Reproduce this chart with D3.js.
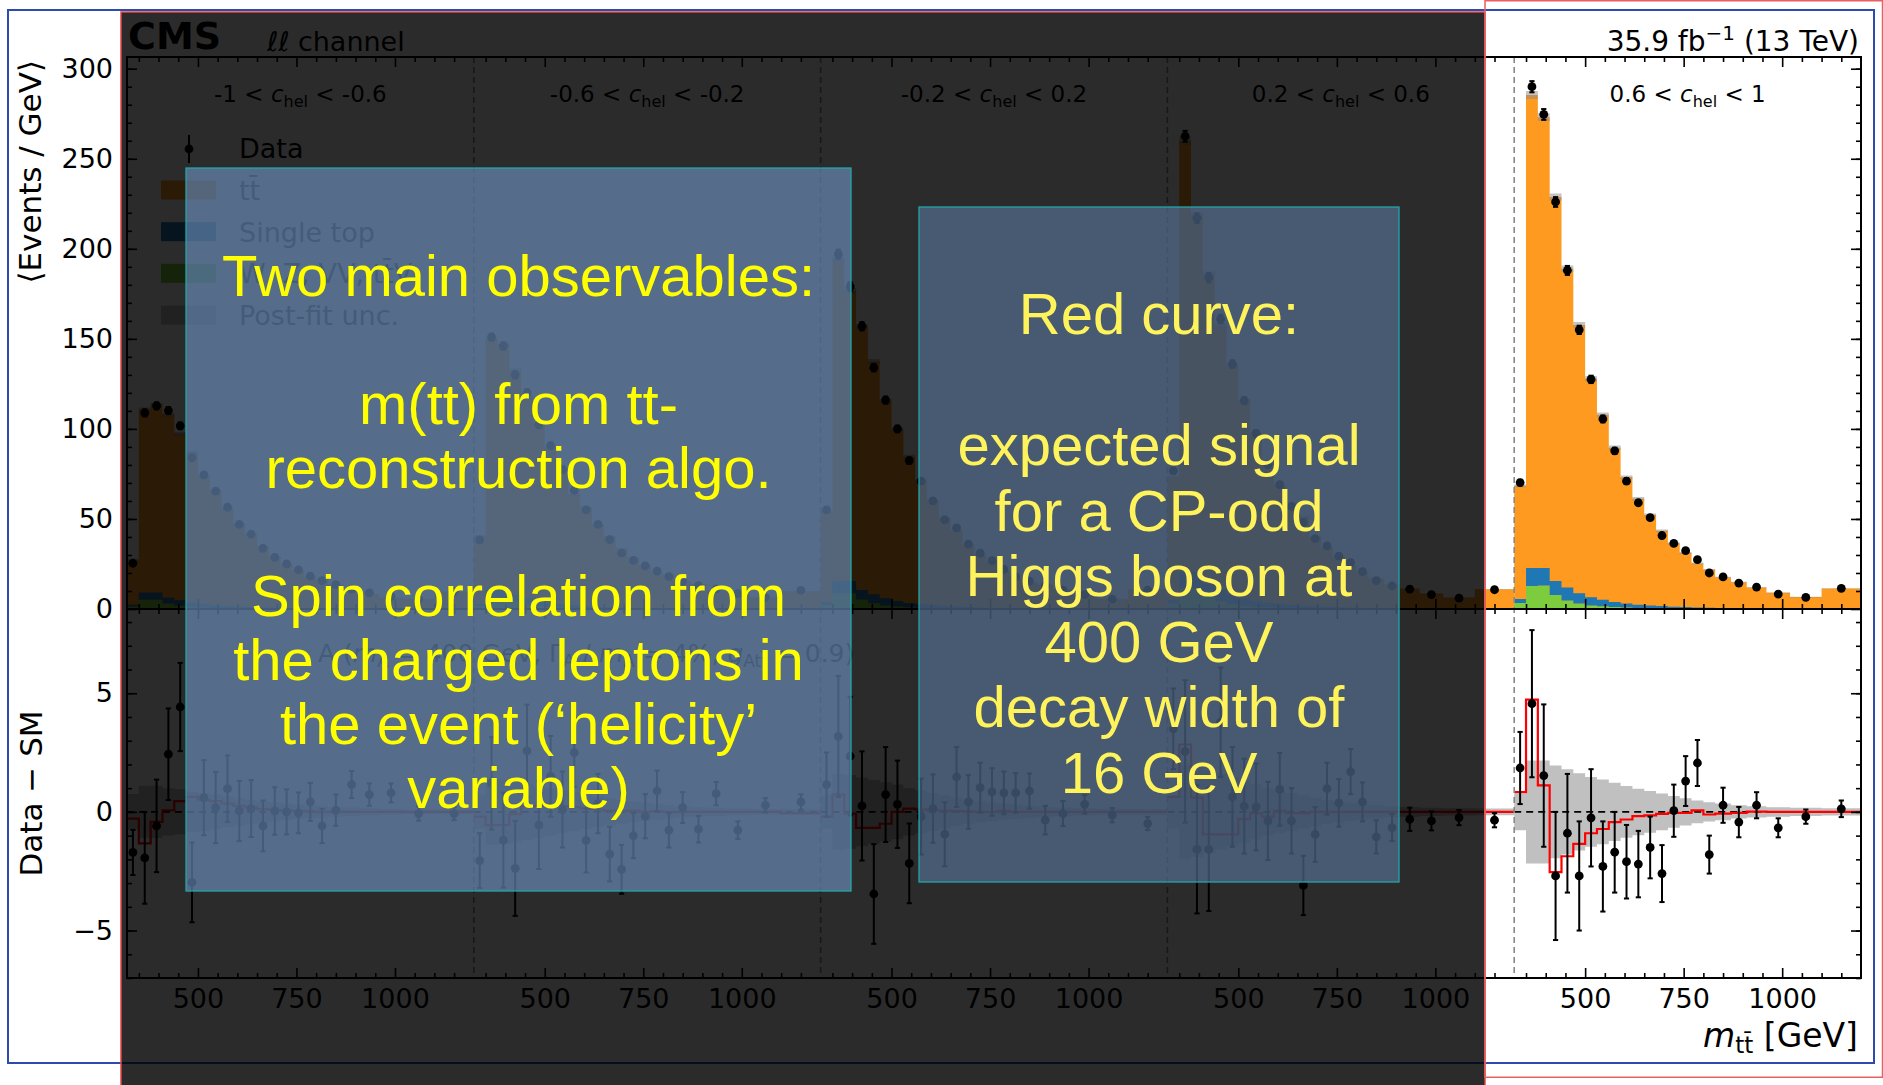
<!DOCTYPE html>
<html>
<head>
<meta charset="utf-8">
<script src="https://cdn.jsdelivr.net/npm/d3@7"></script>
<style>
body { margin:0; background:#ffffff; }
svg text { font-family: "DejaVu Sans", sans-serif; fill:#000; }
</style>
</head>
<body>
<svg id="viz" width="1883" height="1085"></svg>
<script>
// m(tt) bin edges, the same in every c_hel slice
var binEdges = [320, 350, 380, 410, 440, 470, 500, 530, 560, 590, 620, 650, 680, 710, 740, 770, 800, 830, 870, 910, 960, 1020, 1100, 1200];
var sliceLabels = [["-1", "-0.6"], ["-0.6", "-0.2"], ["-0.2", "0.2"], ["0.2", "0.6"], ["0.6", "1"]];
var massTicks = [500, 750, 1000];
var massMinor = [350, 400, 450, 550, 600, 650, 700, 800, 850, 900, 950, 1050, 1100, 1150];
var yTicksUpper = [0, 50, 100, 150, 200, 250, 300];
var yTicksLower = [-5, 0, 5];
var legendLabels = ["tt\u0304", "Single top", "W, Z, VV, tt\u0304V", "Post-fit unc."];

// events / GeV, one row per c_hel slice
var dataObs = [
  [25.4, 108.9, 112.8, 110.2, 101.7, 84, 74.4, 65.5, 56.5, 47, 41.5, 33.7, 28.7, 25, 21.7, 18.3, 15.7, 13.5, 11, 9, 7, 5.5, 9.5],
  [38.3, 151, 146, 130, 120, 102.3, 90.7, 77.4, 66, 55, 47, 38.5, 31, 27, 24, 21, 18, 15.5, 13, 11, 8.5, 6.5, 10.3],
  [55, 197, 179, 157, 134, 116, 100, 82.4, 71, 60, 49.5, 45, 36, 31, 26.8, 22, 18, 15.5, 13, 10.5, 8, 5.5, 10.5],
  [76.7, 262.5, 217, 184, 161, 136, 115.7, 97.5, 80, 69, 57, 48, 39, 35, 29.4, 25.8, 20.8, 15.7, 12.8, 11, 8, 6, 10.7],
  [70.2, 290, 274.6, 226, 188, 155, 127.5, 105.5, 87.8, 71, 59, 50.7, 40.8, 36.4, 32.4, 27.4, 20, 17.8, 14.4, 12.2, 8.3, 6.4, 11.5]
];
var smTotal = [
  [27.1, 110.8, 113.4, 107.8, 97.3, 87, 73.8, 65.3, 55.5, 47, 41.4, 34.3, 28.7, 25, 21.7, 17.9, 16.3, 13.4, 9.9, 8.3, 6.2, 5.6, 9.6],
  [40.4, 149.8, 147.2, 132.4, 117.4, 102.9, 89.2, 77.3, 63.5, 56.2, 46.7, 40.3, 33.4, 28, 24.2, 20.1, 18.8, 15.3, 13.7, 10.2, 9.3, 6.2, 9.9],
  [53.9, 193.8, 176.7, 156.8, 137.5, 115.3, 99.7, 84.6, 71.2, 59.9, 50.4, 43.5, 35.6, 30, 26, 21.2, 17.2, 14.6, 13.4, 10.6, 7.7, 5.6, 11],
  [73.2, 260, 218.6, 185.6, 157.2, 135.4, 115.5, 97.3, 80.4, 68, 57.4, 51.1, 40, 34, 29, 24.1, 20.4, 16.8, 13.5, 11.3, 8.4, 6.2, 11],
  [68.4, 285.4, 273.1, 228.7, 188.9, 157.7, 127.8, 107.8, 89.5, 73.1, 61.2, 52.2, 43.4, 36.4, 31.1, 25.3, 21.8, 17.5, 14.8, 11.9, 9, 6.6, 11.4]
];
var singleTop = [
  [0.9, 4, 3.9, 3.1, 2.9, 2.3, 1.8, 1.4, 1.1, 0.9, 0.7, 0.6, 0.5, 0.4, 0.34, 0.28, 0.22, 0.18, 0.14, 0.12, 0.08, 0.06, 0.1],
  [1.1, 5.2, 5.1, 4, 3.8, 3, 2.3, 1.9, 1.5, 1.1, 0.9, 0.8, 0.6, 0.5, 0.44, 0.36, 0.29, 0.23, 0.18, 0.16, 0.1, 0.08, 0.13],
  [1.5, 6.8, 6.7, 5.2, 5, 3.9, 3.1, 2.4, 1.9, 1.5, 1.2, 1, 0.8, 0.7, 0.58, 0.48, 0.37, 0.3, 0.24, 0.2, 0.14, 0.1, 0.17],
  [2, 9, 8.8, 6.9, 6.6, 5.2, 4, 3.2, 2.5, 2, 1.6, 1.35, 1.1, 0.9, 0.75, 0.6, 0.5, 0.4, 0.3, 0.25, 0.2, 0.15, 0.2],
  [2.2, 10, 9.8, 7.7, 7.3, 5.8, 4.5, 3.6, 2.8, 2.2, 1.8, 1.5, 1.2, 1, 0.85, 0.7, 0.55, 0.45, 0.35, 0.3, 0.2, 0.15, 0.25]
];
var otherBkg = [
  [1.4, 5.1, 5.2, 3.1, 1.9, 1.2, 0.8, 0.6, 0.44, 0.32, 0.24, 0.2, 0.16, 0.12, 0.1, 0.08, 0.06, 0.04, 0.04, 0.04, 0.02, 0.02, 0.04],
  [1.8, 6.7, 6.8, 4.1, 2.4, 1.6, 1, 0.8, 0.6, 0.4, 0.3, 0.26, 0.2, 0.16, 0.13, 0.1, 0.08, 0.05, 0.05, 0.05, 0.03, 0.03, 0.05],
  [2.3, 8.7, 8.8, 5.3, 3.2, 2, 1.4, 1, 0.75, 0.55, 0.4, 0.35, 0.25, 0.2, 0.17, 0.14, 0.1, 0.07, 0.07, 0.07, 0.03, 0.03, 0.07],
  [3, 11.5, 11.7, 7, 4.2, 2.7, 1.8, 1.35, 1, 0.7, 0.55, 0.45, 0.35, 0.3, 0.2, 0.2, 0.15, 0.1, 0.1, 0.1, 0.05, 0.05, 0.1],
  [3.4, 12.8, 13, 7.8, 4.7, 3, 2, 1.5, 1.1, 0.8, 0.6, 0.5, 0.4, 0.3, 0.25, 0.2, 0.15, 0.1, 0.1, 0.1, 0.05, 0.05, 0.1]
];
// lower panel: data - SM, its stat. error, post-fit band half width, A signal
var dataMinusSM = [
  [-1.71, -1.94, -0.59, 2.43, 4.42, -2.97, 0.6, 0.18, 0.98, 0.04, 0.14, -0.59, 0.04, 0, -0.04, 0.42, -0.59, 0.07, 1.15, 0.73, 0.8, -0.07, -0.07],
  [-2.05, 1.2, -1.19, -2.38, 2.57, -0.56, 1.5, 0.1, 2.5, -1.2, 0.35, -1.78, -2.42, -1, -0.18, 0.88, -0.77, 0.18, -0.73, 0.77, -0.77, 0.28, 0.42],
  [1.15, 3.18, 2.35, 0.25, -3.46, 0.73, 0.32, -2.17, -0.2, 0.14, -0.94, 1.47, 0.42, 1.02, 0.84, 0.8, 0.8, 0.88, -0.35, -0.07, 0.32, -0.14, -0.49],
  [3.5, 2.55, -1.58, -1.58, 3.78, 0.63, 0.24, 0.21, -0.38, 0.95, -0.38, -3.1, -0.95, 0.98, 0.38, 1.7, 0.42, -1.05, -0.66, -0.31, -0.38, -0.24, -0.35],
  [1.85, 4.56, 1.53, -2.7, -0.9, -2.7, -0.25, -2.3, -1.7, -2.1, -2.2, -1.5, -2.6, 0.05, 1.3, 2.06, -1.8, 0.28, -0.43, 0.28, -0.67, -0.2, 0.13]
];
var statErr = [
  [0.95, 1.93, 1.95, 1.93, 1.86, 1.68, 1.58, 1.5, 1.4, 1.27, 1.2, 1.07, 1, 0.95, 0.86, 0.8, 0.72, 0.66, 0.57, 0.47, 0.4, 0.3, 0.28],
  [1.15, 1.95, 2, 2, 1.95, 1.85, 1.7, 1.6, 1.45, 1.35, 1.25, 1.15, 1.03, 0.95, 0.93, 0.86, 0.73, 0.65, 0.56, 0.49, 0.37, 0.3, 0.32],
  [1.35, 2.55, 2.5, 2.3, 2.1, 2, 1.84, 1.68, 1.6, 1.44, 1.35, 1.26, 1.13, 1.05, 1, 0.9, 0.83, 0.74, 0.6, 0.53, 0.39, 0.3, 0.28],
  [1.7, 3, 2.7, 2.6, 2.3, 2.1, 2, 1.83, 1.65, 1.53, 1.38, 1.25, 1.15, 1.09, 1, 0.95, 0.82, 0.7, 0.57, 0.49, 0.4, 0.32, 0.3],
  [1.52, 3.1, 3, 2.7, 2.5, 2.3, 2.05, 1.9, 1.7, 1.55, 1.4, 1.3, 1.2, 1.1, 1.05, 0.97, 0.8, 0.74, 0.64, 0.55, 0.4, 0.3, 0.35]
];
var postfitUnc = [
  [0.75, 1.1, 1.1, 1, 0.95, 0.85, 0.8, 0.72, 0.65, 0.58, 0.5, 0.45, 0.4, 0.35, 0.3, 0.27, 0.24, 0.2, 0.18, 0.15, 0.12, 0.1, 0.1],
  [0.7, 1.4, 1.35, 1.3, 1.2, 1.1, 1, 0.9, 0.82, 0.72, 0.64, 0.56, 0.5, 0.44, 0.38, 0.33, 0.28, 0.24, 0.2, 0.17, 0.14, 0.12, 0.12],
  [0.7, 1.6, 1.55, 1.45, 1.35, 1.25, 1.15, 1, 0.9, 0.8, 0.7, 0.6, 0.52, 0.45, 0.4, 0.35, 0.3, 0.26, 0.22, 0.18, 0.15, 0.12, 0.12],
  [0.7, 2, 1.9, 1.75, 1.6, 1.45, 1.3, 1.15, 1, 0.9, 0.8, 0.7, 0.6, 0.5, 0.45, 0.38, 0.33, 0.28, 0.24, 0.2, 0.17, 0.15, 0.14],
  [0.77, 2.17, 2.17, 1.95, 1.8, 1.63, 1.47, 1.36, 1.23, 1.09, 0.98, 0.88, 0.77, 0.67, 0.57, 0.48, 0.41, 0.35, 0.28, 0.24, 0.2, 0.17, 0.15]
];
var signalA400 = [
  [-0.28, -1.33, -0.42, 0.07, 0.45, 0.63, 0.5, 0.45, 0.35, 0.25, 0.18, 0.12, 0.08, 0.05, 0.03, 0.02, 0, 0, 0, 0, 0, 0, 0],
  [-0.2, -0.56, -0.56, -0.1, 0.24, 0.24, 0.24, 0.24, 0.2, 0.15, 0.1, 0.05, 0.03, 0.05, 0, 0.03, 0, 0, 0, 0, 0, 0, -0.05],
  [-0.2, 0.73, -0.07, -0.67, -0.67, -0.5, 0, 0.14, 0.1, 0.05, 0.05, 0.03, 0.02, 0, 0, 0.05, 0, 0, 0, 0, 0, 0, 0],
  [0.63, 2.84, 0.6, -0.95, -0.95, -0.95, -0.3, -0.05, -0.2, 0.05, -0.05, -0.05, 0, 0, 0, 0, 0, 0, 0, 0, 0, 0, 0],
  [0.83, 4.73, 1.12, -2.54, -1.87, -1.35, -0.9, -0.72, -0.43, -0.32, -0.18, -0.15, -0.08, -0.04, -0.04, 0.06, -0.11, -0.07, -0.04, 0.01, 0, 0, 0]
];

var leftNote = ["Two main observables:", "", "m(tt) from tt-", "reconstruction algo.", "", "Spin correlation from", "the charged leptons in", "the event (\u2018helicity\u2019", "variable)"];
var rightNote = ["Red curve:", "", "expected signal", "for a CP-odd", "Higgs boson at", "400 GeV", "decay width of", "16 GeV"];

var colTT = "#fd9a1f", colST = "#1f77b4", colOther = "#7dcc3d", colBand = "#c0c0c0";

var svg = d3.select("#viz");
var xSlice = d3.scaleLinear().domain([0, 5]).range([127, 1861]);
var yUp = d3.scaleLinear().domain([0, 306.5]).range([609, 57]);
var yLo = d3.scaleLinear().domain([-7, 8.55]).range([978, 609]);

// frame of the whole slide figure
svg.append("rect").attr("x", 8).attr("y", 10).attr("width", 1866).attr("height", 1053)
  .attr("fill", "none").attr("stroke", "#2d4baf").attr("stroke-width", 2);

var plot = svg.append("g");

function stepPoints(bins) {
  var pts = bins.map(function (b) { return {e: b.lo, b: b}; });
  pts.push({e: bins[bins.length - 1].hi, b: bins[bins.length - 1]});
  return pts;
}

function drawPoints(g, bins, x, y, key) {
  var pts = g.append("g");
  bins.forEach(function (b) {
    var cx = x(b.mid), v = b[key];
    pts.append("line").attr("x1", cx).attr("x2", cx).attr("y1", y(v - b.err)).attr("y2", y(v + b.err))
      .attr("stroke", "#000").attr("stroke-width", 2);
    [v - b.err, v + b.err].forEach(function (e) {
      pts.append("line").attr("x1", cx - 2.6).attr("x2", cx + 2.6).attr("y1", y(e)).attr("y2", y(e))
        .attr("stroke", "#000").attr("stroke-width", 2);
    });
    pts.append("circle").attr("cx", cx).attr("cy", y(v)).attr("r", 4.4).attr("fill", "#000");
  });
}

sliceLabels.forEach(function (lab, i) {
  var x = d3.scaleLinear().domain([320, 1200]).range([xSlice(i), xSlice(i + 1)]);
  var bins = binEdges.slice(0, -1).map(function (lo, j) {
    return {lo: lo, hi: binEdges[j + 1], mid: (lo + binEdges[j + 1]) / 2,
      obs: dataObs[i][j], sm: smTotal[i][j], st: singleTop[i][j], oth: otherBkg[i][j],
      res: dataMinusSM[i][j], err: statErr[i][j], unc: postfitUnc[i][j], sig: signalA400[i][j]};
  });
  var pts = stepPoints(bins);
  var g = plot.append("g");

  // upper: stacked prediction
  g.append("path").datum(pts)
    .attr("d", d3.area().curve(d3.curveStepAfter).x(function (d) { return x(d.e); })
      .y0(yUp(0)).y1(function (d) { return yUp(d.b.sm); }))
    .attr("fill", colTT);
  var layers = d3.stack().keys(["oth", "st"])(bins);
  [colOther, colST].forEach(function (c, k) {
    var lp = layers[k].map(function (s) { return {e: s.data.lo, s: s}; });
    lp.push({e: bins[bins.length - 1].hi, s: layers[k][bins.length - 1]});
    g.append("path").datum(lp)
      .attr("d", d3.area().curve(d3.curveStepAfter).x(function (d) { return x(d.e); })
        .y0(function (d) { return yUp(d.s[0]); }).y1(function (d) { return yUp(d.s[1]); }))
      .attr("fill", c);
  });
  g.append("path").datum(pts)
    .attr("d", d3.area().curve(d3.curveStepAfter).x(function (d) { return x(d.e); })
      .y0(function (d) { return yUp(d.b.sm - d.b.unc); }).y1(function (d) { return yUp(d.b.sm + d.b.unc); }))
    .attr("fill", "#8a8a8a").attr("fill-opacity", 0.5);
  drawPoints(g, bins, x, yUp, "obs");

  // lower: data - SM
  g.append("path").datum(pts)
    .attr("d", d3.area().curve(d3.curveStepAfter).x(function (d) { return x(d.e); })
      .y0(function (d) { return yLo(-d.b.unc); }).y1(function (d) { return yLo(d.b.unc); }))
    .attr("fill", colBand);
  g.append("line").attr("x1", x(320)).attr("x2", x(1200)).attr("y1", yLo(0)).attr("y2", yLo(0))
    .attr("stroke", "#000").attr("stroke-width", 1.6).attr("stroke-dasharray", "7,5");
  g.append("path").datum(pts)
    .attr("d", d3.line().curve(d3.curveStepAfter).x(function (d) { return x(d.e); }).y(function (d) { return yLo(d.b.sig); }))
    .attr("fill", "none").attr("stroke", "#ff0000").attr("stroke-width", 2.2);
  drawPoints(g, bins, x, yLo, "res");

  // slice separator
  if (i > 0) {
    g.append("line").attr("x1", x(320)).attr("x2", x(320)).attr("y1", yUp.range()[1]).attr("y2", yLo.range()[0])
      .attr("stroke", "#888").attr("stroke-width", 1.6).attr("stroke-dasharray", "6,4");
  }

  // x axes, ticks pointing inwards
  function tickAxis(axis, y, vals, size, labels) {
    var a = g.append("g").attr("transform", "translate(0," + y + ")")
      .call(axis(x).tickValues(vals).tickSizeInner(size).tickSizeOuter(0).tickPadding(11)
        .tickFormat(labels ? d3.format("d") : ""));
    a.select(".domain").remove();
    a.selectAll("line").attr("stroke-width", 1.6);
    a.attr("font-size", 27).attr("font-family", "DejaVu Sans");
    return a;
  }
  tickAxis(d3.axisBottom, yLo.range()[0], massTicks, -10, true);
  tickAxis(d3.axisBottom, yLo.range()[0], massMinor, -5, false);
  tickAxis(d3.axisBottom, yLo.range()[1], massTicks, 10, false);
  tickAxis(d3.axisBottom, yLo.range()[1], massMinor, 5, false);
  tickAxis(d3.axisTop, yUp.range()[0], massTicks, 10, false);
  tickAxis(d3.axisTop, yUp.range()[0], massMinor, 5, false);
  tickAxis(d3.axisBottom, yUp.range()[1], massTicks, 10, false);
  tickAxis(d3.axisBottom, yUp.range()[1], massMinor, 5, false);

  // slice label
  var t = g.append("text").attr("x", (x(320) + x(1200)) / 2).attr("y", 102)
    .attr("text-anchor", "middle").attr("font-size", 23);
  t.append("tspan").text(lab[0] + " < ");
  t.append("tspan").attr("font-style", "italic").text("c");
  t.append("tspan").attr("font-size", 16).attr("dy", 5).text("hel");
  t.append("tspan").attr("dy", -5).text(" < " + lab[1]);
});

// y axes
function yAxis(axis, scale, xpos, vals, size, labels) {
  var a = plot.append("g").attr("transform", "translate(" + xpos + ",0)")
    .call(axis(scale).tickValues(vals).tickSizeInner(size).tickSizeOuter(0).tickPadding(14)
      .tickFormat(labels ? null : ""));
  a.select(".domain").remove();
  a.selectAll("line").attr("stroke-width", 1.6);
  a.attr("font-size", 27).attr("font-family", "DejaVu Sans");
}
yAxis(d3.axisLeft, yUp, 127, yTicksUpper, -10, true);
yAxis(d3.axisLeft, yUp, 127, d3.range(10, 306, 10), -5, false);
yAxis(d3.axisRight, yUp, 1861, yTicksUpper, -10, false);
yAxis(d3.axisRight, yUp, 1861, d3.range(10, 306, 10), -5, false);
yAxis(d3.axisLeft, yLo, 127, yTicksLower, -10, true);
yAxis(d3.axisLeft, yLo, 127, d3.range(-7, 9, 1), -5, false);
yAxis(d3.axisRight, yLo, 1861, yTicksLower, -10, false);
yAxis(d3.axisRight, yLo, 1861, d3.range(-7, 9, 1), -5, false);

// frames
[[yUp.range()[1], yUp.range()[0]], [yLo.range()[1], yLo.range()[0]]].forEach(function (r) {
  plot.append("rect").attr("x", xSlice(0)).attr("y", r[0]).attr("width", xSlice(5) - xSlice(0)).attr("height", r[1] - r[0])
    .attr("fill", "none").attr("stroke", "#000").attr("stroke-width", 2);
});

// titles
plot.append("text").attr("x", 128).attr("y", 49).attr("font-size", 38).attr("font-weight", "bold").text("CMS");
var ch = plot.append("text").attr("x", 267).attr("y", 51).attr("font-size", 27);
ch.append("tspan").attr("font-style", "italic").text("\u2113\u2113");
ch.append("tspan").text(" channel");
var lumi = plot.append("text").attr("x", 1859).attr("y", 51).attr("font-size", 28).attr("text-anchor", "end");
lumi.append("tspan").text("35.9 fb");
lumi.append("tspan").attr("font-size", 20).attr("dy", -11).text("\u22121");
lumi.append("tspan").attr("dy", 11).text(" (13 TeV)");
plot.append("text").attr("transform", "translate(41,60) rotate(-90)").attr("text-anchor", "end")
  .attr("font-size", 31).text("\u27e8Events / GeV\u27e9");
plot.append("text").attr("transform", "translate(42," + ((yLo.range()[0] + yLo.range()[1]) / 2) + ") rotate(-90)")
  .attr("text-anchor", "middle").attr("font-size", 31).text("Data \u2212 SM");
var xt = plot.append("text").attr("x", 1858).attr("y", 1047).attr("font-size", 33).attr("text-anchor", "end");
xt.append("tspan").attr("font-style", "italic").text("m");
xt.append("tspan").attr("font-size", 23).attr("dy", 6).text("tt\u0304");
xt.append("tspan").attr("dy", -6).text(" [GeV]");

// signal annotation in lower panel
var an = plot.append("text").attr("x", 318).attr("y", 662).attr("font-size", 25);
an.append("tspan").text("A (");
an.append("tspan").attr("font-style", "italic").text("m");
an.append("tspan").attr("font-size", 17).attr("dy", 5).text("A");
an.append("tspan").attr("dy", -5).text(" = 400 GeV, \u0393");
an.append("tspan").attr("font-size", 17).attr("dy", 5).text("A");
an.append("tspan").attr("dy", -5).text(" / ");
an.append("tspan").attr("font-style", "italic").text("m");
an.append("tspan").attr("font-size", 17).attr("dy", 5).text("A");
an.append("tspan").attr("dy", -5).text(" = 4%, ");
an.append("tspan").attr("font-style", "italic").text("g");
an.append("tspan").attr("font-size", 17).attr("dy", 5).text("Att\u0304");
an.append("tspan").attr("dy", -5).text(" = 0.9)");

// legend
var leg = plot.append("g");
leg.append("line").attr("x1", 189).attr("x2", 189).attr("y1", 135).attr("y2", 163).attr("stroke", "#000").attr("stroke-width", 2);
leg.append("circle").attr("cx", 189).attr("cy", 149).attr("r", 4.4).attr("fill", "#000");
leg.append("text").attr("x", 239).attr("y", 158).attr("font-size", 27).text("Data");
[colTT, colST, colOther, colBand].forEach(function (c, k) {
  var cy = 190 + k * 41.7;
  leg.append("rect").attr("x", 161).attr("y", cy - 9.5).attr("width", 55).attr("height", 19).attr("fill", c);
  leg.append("text").attr("x", 239).attr("y", cy + 10).attr("font-size", 27).text(legendLabels[k]);
});

// dimming layer over the first four slices
svg.append("rect").attr("x", 121).attr("y", 12).attr("width", 1364).attr("height", 1073)
  .attr("fill", "#000").attr("fill-opacity", 0.83);
svg.append("path").attr("d", "M121,1085V12H1485V1085").attr("fill", "none").attr("stroke", "#e24646").attr("stroke-width", 1.5);
svg.append("rect").attr("x", 1485).attr("y", 0.75).attr("width", 397.5).attr("height", 1076.5)
  .attr("fill", "none").attr("stroke", "#e86060").attr("stroke-width", 1.5);

// annotation boxes
function noteBox(x0, y0, w, h, fill, lines, base, lh, color) {
  svg.append("rect").attr("x", x0).attr("y", y0).attr("width", w).attr("height", h)
    .attr("fill", fill).attr("fill-opacity", 0.6).attr("stroke", "#22a6a6").attr("stroke-width", 1.3);
  lines.forEach(function (s, k) {
    if (!s) return;
    svg.append("text").attr("x", x0 + w / 2).attr("y", base + k * lh).attr("text-anchor", "middle")
      .style("font-family", "'Liberation Sans', Arial, sans-serif").style("fill", color)
      .attr("font-size", 58).text(s);
  });
}
noteBox(186, 168, 665, 723, "#7299c9", leftNote, 296, 64, "#ffff00");
noteBox(919, 207, 480, 675, "#5b79a0", rightNote, 334, 65.5, "#fff35c");
</script>
</body>
</html>
